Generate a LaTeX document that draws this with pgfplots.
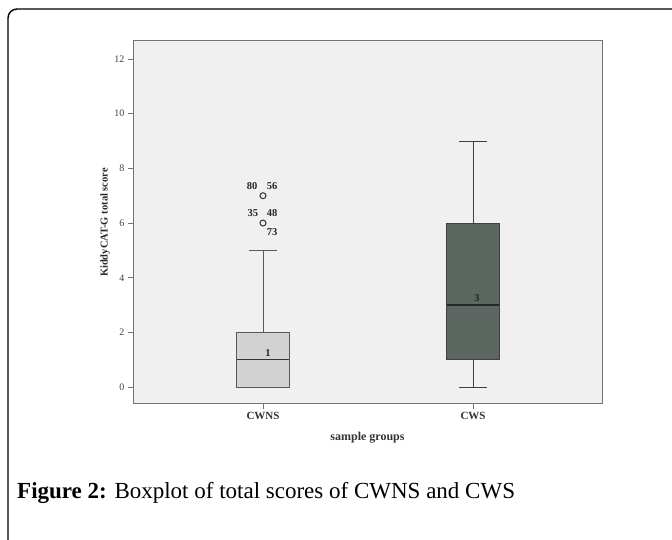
\documentclass[border=0pt]{standalone}
\usepackage{fontspec}
\setmainfont{Liberation Serif}
\usepackage{pgfplots}
\pgfplotsset{compat=1.18}
\usepgfplotslibrary{statistics}
\definecolor{plotbg}{HTML}{F0F0F0}
\definecolor{boxA}{HTML}{D2D2D2}
\definecolor{boxB}{HTML}{5B6760}
\definecolor{axline}{HTML}{747474}
\begin{document}
\begin{tikzpicture}[x=1pt,y=1pt]
\useasboundingbox (0,0) rectangle (672,540);
\draw[line width=1.4pt] (8,-2) -- (8,522) arc[start angle=180,end angle=90,radius=9] -- (674,531);
\begin{axis}[
  at={(133pt,136pt)}, anchor=south west,
  scale only axis, width=469pt, height=363pt,
  xmin=0.381, xmax=2.614, ymin=-0.62, ymax=12.66,
  axis background/.style={fill=plotbg},
  axis line style={draw=axline, line width=1pt},
  xtick={1,2}, xticklabels={CWNS,CWS},
  ytick={0,2,4,6,8,10,12},
  tick align=outside, xtick pos=bottom, ytick pos=left,
  major tick length=5pt,
  tick style={draw=axline, line width=1pt},
  x tick label style={font=\fontsize{11}{13}\selectfont\bfseries, text=black!80},
  y tick label style={font=\fontsize{10}{12}\selectfont, text=black!75},
  /pgf/number format/assume math mode=true,
  xlabel={\bfseries sample groups},
  ylabel={\bfseries KiddyCAT-G total score},
  every axis x label/.style={at={(axis description cs:0.5,-0.0937)}, anchor=center, font=\fontsize{12}{14}\selectfont, text=black!80},
  every axis y label/.style={at={(axis description cs:-0.0597,0.5)}, anchor=center, rotate=90, font=\fontsize{10.5}{13}\selectfont, text=black!85},
  boxplot/draw direction=y,
  clip=false,
]
\addplot[boxplot prepared={median=1, lower quartile=0, upper quartile=2,
    lower whisker=0, upper whisker=5, draw position=1,
    box extend=0.25, whisker extend=0.13},
  draw=black!65, line width=1pt, fill=boxA,
  boxplot/every median/.style={draw=black!80, line width=1.4pt},
  mark=o, mark size=3pt, mark options={draw=black!80, fill=none, line width=1pt}]
  table[row sep=\\, y index=0] {7\\ 6\\};
\addplot[boxplot prepared={median=3, lower quartile=1, upper quartile=6,
    lower whisker=0, upper whisker=9, draw position=2,
    box extend=0.25, whisker extend=0.13},
  boxplot/every median/.style={draw=black!85, line width=1.4pt},
  draw=black!75, line width=1pt, fill=boxB]
  coordinates {};
\begin{scope}[every node/.style={font=\fontsize{10.5}{12}\selectfont\bfseries, text=black!85, inner sep=0pt}]
\node at (axis cs:0.948,7.35) {80};
\node at (axis cs:1.043,7.35) {56};
\node at (axis cs:0.952,6.37) {35};
\node at (axis cs:1.043,6.37) {48};
\node at (axis cs:1.043,5.67) {73};
\node at (axis cs:1.024,1.24) {1};
\node at (axis cs:2.019,3.26) {3};
\end{scope}
\end{axis}
\node[anchor=west, inner sep=0pt, font=\fontsize{23}{28}\selectfont] at (17,47) {\textbf{Figure 2:} Boxplot of total scores of CWNS and CWS};
\end{tikzpicture}
\end{document}
